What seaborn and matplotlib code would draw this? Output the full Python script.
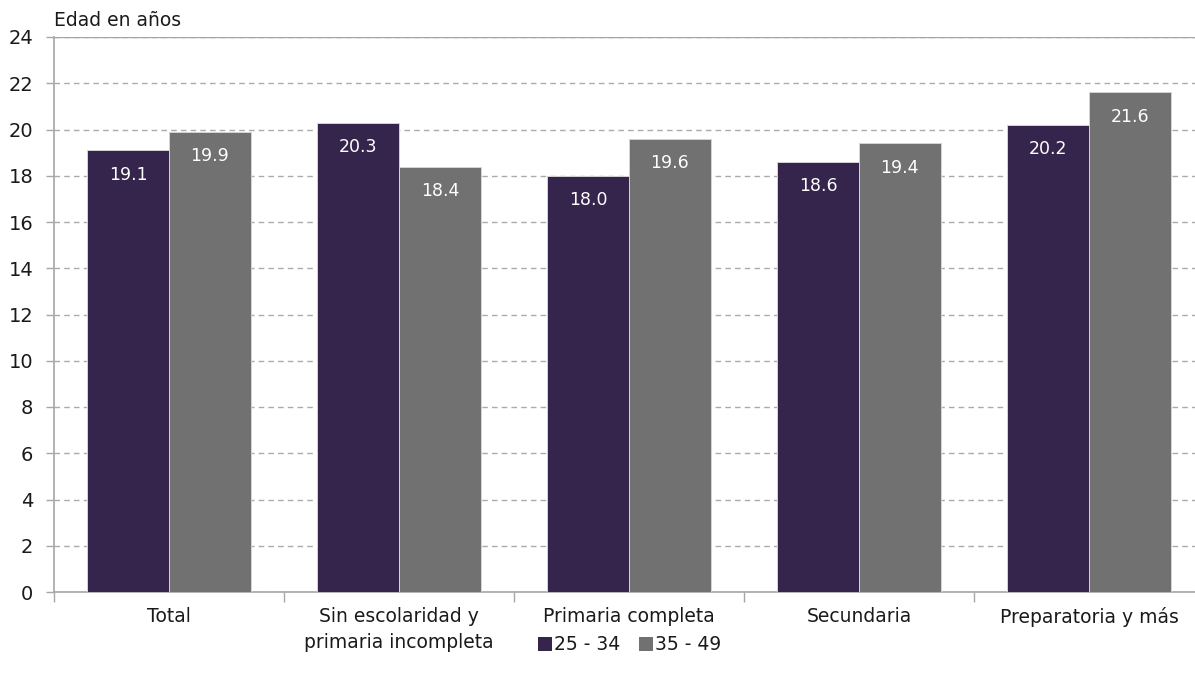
import matplotlib
matplotlib.use("Agg")
import matplotlib.pyplot as plt
import seaborn as sns
import pandas as pd
from matplotlib.ticker import FixedLocator

categorias = ["Total", "Sin escolaridad y\nprimaria incompleta", "Primaria completa",
              "Secundaria", "Preparatoria y más"]
grupo_25_34 = [19.1, 20.3, 18.0, 18.6, 20.2]
grupo_35_49 = [19.9, 18.4, 19.6, 19.4, 21.6]
grupos = ["25 - 34", "35 - 49"]
y_ticks = list(range(0, 25, 2))

colores = {"25 - 34": "#341F52", "35 - 49": "#717171"}

df = pd.DataFrame({
    "Categoria": categorias * 2,
    "Grupo": [grupos[0]] * len(categorias) + [grupos[1]] * len(categorias),
    "Edad": grupo_25_34 + grupo_35_49,
})

sns.set_theme(style="white")
plt.rcParams["font.family"] = ["DejaVu Sans"]

fig = plt.figure(figsize=(11.95, 6.81), dpi=100)
W, H = 1195, 681
ax = fig.add_axes([54 / W, 1 - 592 / H, (1204 - 54) / W, (592 - 37) / H])

sns.barplot(data=df, x="Categoria", y="Edad", hue="Grupo", palette=colores,
            width=0.71, ax=ax, edgecolor="#d4d4d4", linewidth=0.7,
            errorbar=None, legend=True, zorder=3)

for cont in ax.containers:
    ax.bar_label(cont, fmt="%.1f", padding=-24, color="white", fontsize=12.5)

ax.set_xlim(-0.5, 4.5)
ax.set_ylim(0, 24)
ax.set_yticks(y_ticks)
ax.set_ylabel("")
ax.set_xlabel("")

# grid
ax.yaxis.grid(True, linestyle=(0, (4, 3)), color="#ababab", linewidth=1.0, zorder=0)
ax.xaxis.grid(False)
ax.set_axisbelow(True)

for s in ["top", "right"]:
    ax.spines[s].set_visible(False)
for s in ["left", "bottom"]:
    ax.spines[s].set_color("#a6a6a6")
    ax.spines[s].set_linewidth(1.2)
ax.axhline(24, color="#a6a6a6", linewidth=1.0, zorder=1)

ax.tick_params(axis="x", which="major", length=0, labelsize=13.5, pad=11, colors="#1a1a1a")
ax.xaxis.set_minor_locator(FixedLocator([-0.5, 0.5, 1.5, 2.5, 3.5]))
ax.tick_params(axis="x", which="minor", length=7, width=1.0, color="#a6a6a6", bottom=True)
ax.tick_params(axis="y", which="major", length=6, width=1.0, color="#a6a6a6",
               labelsize=14, pad=9, left=True)
for lab in ax.get_yticklabels():
    lab.set_color("#1a1a1a")
for lab in ax.get_xticklabels():
    lab.set_color("#1a1a1a")
    lab.set_linespacing(1.45)

fig.text(54 / W, 1 - 20 / H, "Edad en años", fontsize=13.5, color="#1a1a1a",
         ha="left", va="center")

leg = ax.legend(loc="center", bbox_to_anchor=(630 / W, 1 - 645 / H),
                bbox_transform=fig.transFigure, ncol=2, frameon=False,
                handlelength=0.7, handleheight=0.7, handletextpad=0.15,
                columnspacing=1.0, fontsize=13.5)
for t in leg.get_texts():
    t.set_color("#1a1a1a")
for h in leg.legend_handles:
    h.set_edgecolor("none")

fig.savefig("out.png", dpi=100)
